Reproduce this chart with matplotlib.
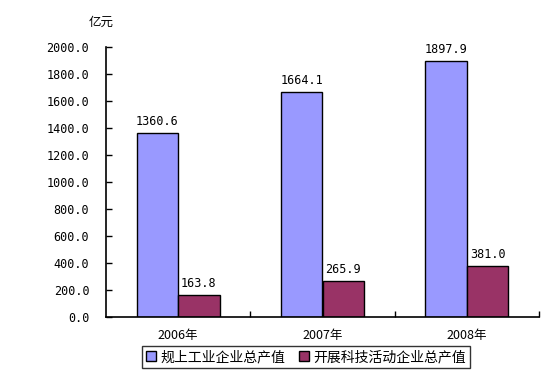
import numpy as np
import matplotlib.pyplot as plt

plt.rcParams['font.family'] = ['Noto Sans CJK SC', 'DejaVu Sans']

years = ['2006年', '2007年', '2008年']
total_output = [1360.6, 1664.1, 1897.9]
tech_output = [163.8, 265.9, 381.0]
series_names = ['规上工业企业总产值', '开展科技活动企业总产值']

mono = ['DejaVu Sans Mono']

fig = plt.figure(figsize=(5.53, 3.8), dpi=100)
ax = fig.add_axes([106/553, 63/380, 433/553, 270/380])

x = np.arange(len(years))
w = 0.288
b1 = ax.bar(x - w/2, total_output, w, color='#9999FF', edgecolor='black', linewidth=1, label=series_names[0])
b2 = ax.bar(x + w/2, tech_output, w, color='#993366', edgecolor='black', linewidth=1, label=series_names[1])

for bars, vals in ((b1, total_output), (b2, tech_output)):
    for r, v in zip(bars, vals):
        ax.annotate('%.1f' % v, (r.get_x() + r.get_width()/2, v), xytext=(0, 3.5),
                    textcoords='offset points', ha='center', va='bottom',
                    fontsize=8.5, family=mono)

ax.set_xlim(-0.5, 2.5)
ax.set_ylim(0, 2000)
ax.set_yticks(np.arange(0, 2001, 200))
ax.set_yticklabels(['%.1f' % t for t in np.arange(0, 2001, 200)], fontsize=8.5, family=mono)
ax.tick_params(axis='y', direction='in', length=4, width=1, pad=12)

ax.set_xticks(x)
ax.set_xticklabels(years, fontsize=9)
ax.tick_params(axis='x', which='major', length=0, pad=9)
ax.set_xticks([0.5, 1.5, 2.5], minor=True)
ax.tick_params(axis='x', which='minor', direction='in', length=4, width=1)

for s in ('top', 'right'):
    ax.spines[s].set_visible(False)
for s in ('left', 'bottom'):
    ax.spines[s].set_linewidth(1.2)

fig.text(101/553, 1 - 22/380, '亿元', ha='center', va='center', fontsize=9)

leg = fig.legend(handles=[b1, b2], loc='center', bbox_to_anchor=(306/553, 1 - 357/380),
                 ncol=2, fontsize=10, frameon=True, fancybox=False, edgecolor='black',
                 handlelength=0.7, handleheight=0.7, handletextpad=0.3, columnspacing=1.0,
                 borderpad=0.3)
leg.get_frame().set_linewidth(1)

fig.savefig('out.png', dpi=100)
